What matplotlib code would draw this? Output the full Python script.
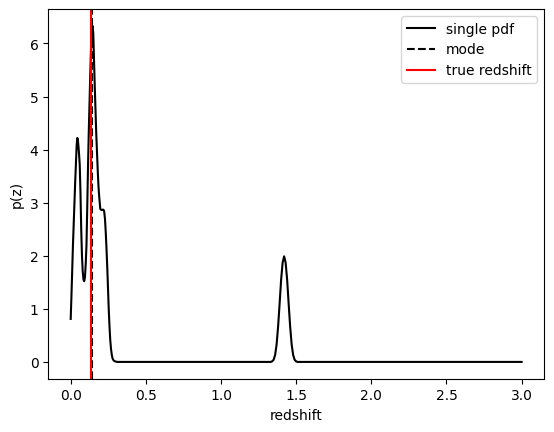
import numpy as np
import matplotlib
matplotlib.use("Agg")
import matplotlib.pyplot as plt

# redshift grid and p(z) values
z_vals = [0.000, 0.005, 0.010, 0.015, 0.020, 0.025, 0.030, 0.035, 0.040, 0.044,
          0.048, 0.052, 0.056, 0.060, 0.065, 0.070, 0.075, 0.080, 0.085, 0.090,
          0.095, 0.100, 0.105, 0.110, 0.115, 0.120, 0.125, 0.130, 0.135, 0.140,
          0.145, 0.150, 0.155, 0.160, 0.165, 0.170, 0.175, 0.180, 0.185, 0.190,
          0.197, 0.205, 0.215, 0.222, 0.228, 0.233, 0.238, 0.243, 0.248, 0.253,
          0.258, 0.263, 0.268, 0.273, 0.278, 0.285, 0.295, 0.310, 0.330,
          1.330, 1.340, 1.350, 1.360, 1.370, 1.380, 1.390, 1.400, 1.410, 1.420,
          1.430, 1.440, 1.450, 1.460, 1.470, 1.480, 1.490, 1.500, 1.510, 3.000]
pz_vals = [0.81, 1.25, 1.72, 2.20, 2.60, 3.00, 3.40, 3.75, 4.10, 4.22,
           4.18, 4.05, 3.90, 3.72, 3.20, 2.50, 2.00, 1.70, 1.55, 1.52,
           1.60, 1.85, 2.20, 2.90, 3.65, 4.30, 4.85, 5.40, 5.90, 6.25,
           6.33, 6.20, 5.70, 5.20, 4.75, 4.30, 3.95, 3.60, 3.30, 3.10,
           2.88, 2.86, 2.87, 2.85, 2.70, 2.45, 2.15, 1.80, 1.40, 1.00,
           0.68, 0.42, 0.25, 0.14, 0.07, 0.03, 0.01, 0.00, 0.00,
           0.00, 0.01, 0.04, 0.13, 0.33, 0.67, 1.10, 1.55, 1.87, 1.99,
           1.87, 1.55, 1.10, 0.67, 0.33, 0.13, 0.04, 0.01, 0.00, 0.00]

z_mode = 0.145
z_true = 0.137

plt.plot(z_vals, pz_vals, color="k", label="single pdf")
plt.axvline(z_mode, color="k", linestyle="--", label="mode")
plt.axvline(z_true, color="r", label="true redshift")
plt.xlabel("redshift")
plt.ylabel("p(z)")
plt.legend()
plt.savefig("out.png", bbox_inches="tight")
